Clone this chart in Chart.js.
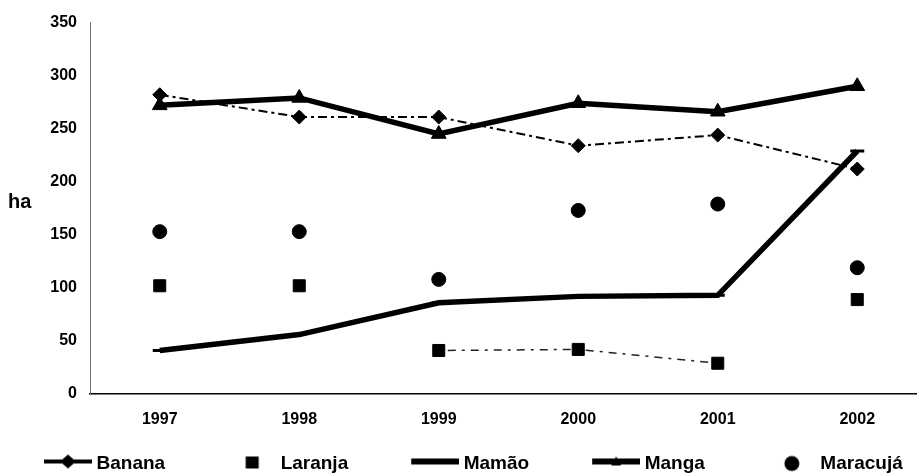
<!DOCTYPE html>
<html>
<head>
<meta charset="utf-8">
<title>Área colhida (ha)</title>
<script src="https://cdn.jsdelivr.net/npm/chart.js@4.4.0/dist/chart.umd.min.js"></script>
<style>
  html, body { margin: 0; padding: 0; background: #fff; overflow: hidden; }
  #wrap { position: absolute; left: -19px; top: 0; width: 946px; height: 474px; }
</style>
</head>
<body>
<div id="wrap"><canvas id="chart"></canvas></div>
<script>
// area per crop, in hectares
const years = ['1997', '1998', '1999', '2000', '2001', '2002'];
const banana = [282, 261, 261, 234, 244, 212];
const laranja = [102, 102, 41, 42, 29, 89];
const mamao = [41, 56, 86, 92, 93, 229];
const manga = [272, 279, 245, 274, 266, 290];
const maracuja = [153, 153, 108, 173, 179, 119];
const yTicks = [0, 50, 100, 150, 200, 250, 300, 350];
const unit = 'ha';

const FONT = '"Liberation Sans", Arial, Helvetica, sans-serif';
Chart.defaults.font.family = FONT;
Chart.defaults.color = '#000';

// legend swatches: transparent lead-in on the left, marker area on the right
function swatch(kind) {
  const c = document.createElement('canvas');
  c.width = 106;
  c.height = 24;
  const g = c.getContext('2d');
  g.fillStyle = '#000';
  g.strokeStyle = '#000';
  const x0 = 58, x1 = 106, cx = 82, cy = 10;
  if (kind === 'banana') {
    g.fillRect(x0, cy - 2, x1 - x0, 4);
    g.beginPath();
    g.moveTo(cx - 8, cy); g.lineTo(cx, cy - 7); g.lineTo(cx + 8, cy); g.lineTo(cx, cy + 7);
    g.closePath();
    g.fill();
  } else if (kind === 'laranja') {
    g.fillRect(cx - 6.5, cy - 5, 13, 12);
  } else if (kind === 'mamao') {
    g.fillRect(x0, cy - 3, x1 - x0, 6);
  } else if (kind === 'manga') {
    g.fillRect(x0, cy - 3, x1 - x0, 6);
    g.beginPath();
    g.moveTo(cx, cy - 5); g.lineTo(cx + 5, cy + 4); g.lineTo(cx - 5, cy + 4);
    g.closePath();
    g.fill();
  } else {
    g.beginPath();
    g.arc(cx, cy + 2, 7.5, 0, Math.PI * 2);
    g.fill();
  }
  return c;
}

const swatches = ['banana', 'laranja', 'mamao', 'manga', 'maracuja'].map(swatch);

// draws the horizontal unit label left of the value axis
const unitLabel = {
  id: 'unitLabel',
  afterDraw(chart) {
    const { ctx, chartArea } = chart;
    ctx.save();
    ctx.font = 'bold 20px ' + FONT;
    ctx.fillStyle = '#000';
    ctx.textBaseline = 'alphabetic';
    ctx.fillText(unit, 27, (chartArea.top + chartArea.bottom) / 2);
    ctx.restore();
  }
};

const point = { pointBackgroundColor: '#000', pointBorderColor: '#000', pointBorderWidth: 1 };

new Chart(document.getElementById('chart'), {
  type: 'line',
  data: {
    labels: years,
    datasets: [
      {
        label: 'Banana', data: banana, borderColor: '#000', borderWidth: 2,
        borderDash: [9, 4, 3, 4], pointStyle: 'rectRot', pointRadius: 7, ...point
      },
      {
        label: 'Laranja', data: laranja, borderColor: '#000', borderWidth: 1.5,
        borderDash: [3, 6, 8, 6],
        segment: {
          borderColor: s => (s.p0DataIndex === 2 || s.p0DataIndex === 3) ? '#222' : 'rgba(0,0,0,0)'
        },
        pointStyle: 'rect', pointRadius: 8.5, ...point
      },
      {
        label: 'Mamão', data: mamao, borderColor: '#000', borderWidth: 5.5,
        pointStyle: 'line', pointRadius: 7, pointBorderColor: '#000', pointBorderWidth: 3
      },
      {
        label: 'Manga', data: manga, borderColor: '#000', borderWidth: 5.5,
        pointStyle: 'triangle', pointRadius: 8.5, ...point
      },
      {
        label: 'Maracujá', data: maracuja, showLine: false,
        pointStyle: 'circle', pointRadius: 7, ...point
      }
    ]
  },
  options: {
    responsive: true,
    maintainAspectRatio: false,
    animation: false,
    layout: { autoPadding: false, padding: { top: 21, left: 0, right: 0, bottom: 0 } },
    plugins: {
      legend: {
        position: 'bottom',
        align: 'start',
        maxHeight: 30,
        labels: {
          usePointStyle: true,
          pointStyleWidth: 96,
          padding: 10,
          color: '#000',
          font: { size: 19, weight: 'bold' },
          generateLabels(chart) {
            const items = Chart.defaults.plugins.legend.labels.generateLabels(chart);
            items.forEach((it, i) => { it.pointStyle = swatches[i]; });
            return items;
          }
        }
      },
      tooltip: { enabled: false }
    },
    scales: {
      x: {
        offset: true,
        grid: { display: false, drawTicks: false },
        border: { display: true, color: '#000', width: 1.5 },
        ticks: { padding: 16, color: '#000', font: { size: 16, weight: 'bold' } },
        afterFit(scale) { scale.height = 50; }
      },
      y: {
        min: yTicks[0],
        max: yTicks[yTicks.length - 1],
        grid: { display: false, drawTicks: false },
        border: { display: true, color: '#777', width: 1, dash: [4, 5] },
        ticks: { padding: 13, color: '#000', font: { size: 16, weight: 'bold' } },
        afterBuildTicks(scale) { scale.ticks = yTicks.map(v => ({ value: v })); },
        afterFit(scale) { scale.width = 109; }
      }
    }
  },
  plugins: [unitLabel]
});
</script>
</body>
</html>
